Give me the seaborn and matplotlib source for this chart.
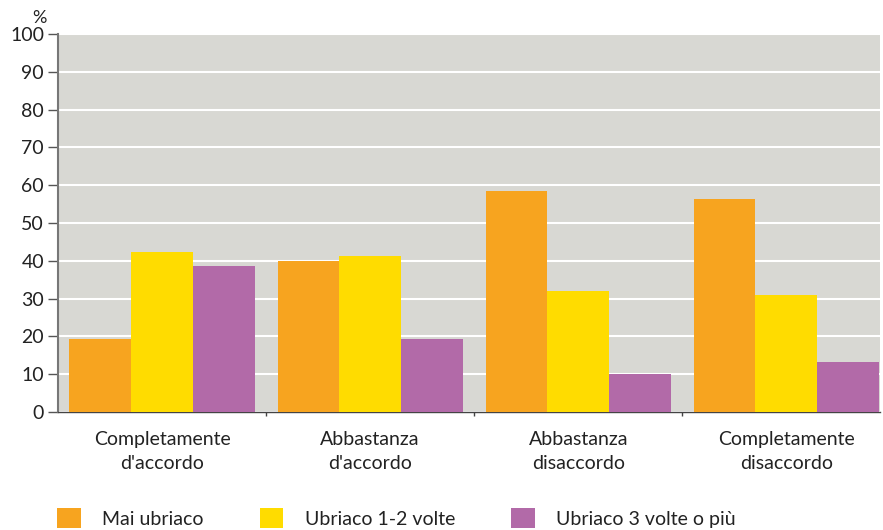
import numpy as np
import pandas as pd
import seaborn as sns
import matplotlib.pyplot as plt
from matplotlib.patches import Patch
from matplotlib.ticker import FixedLocator

categories = ["Completamente\nd'accordo", "Abbastanza\nd'accordo",
              "Abbastanza\ndisaccordo", "Completamente\ndisaccordo"]
series = ["Mai ubriaco", "Ubriaco 1-2 volte", "Ubriaco 3 volte o più"]
mai = [19.3, 40.0, 58.5, 56.3]
volte12 = [42.3, 41.3, 32.0, 31.0]
volte3 = [38.6, 19.3, 10.0, 13.2]
colors = ["#F7A41F", "#FFDC00", "#B26AA8"]

df = pd.DataFrame({
    "cat": categories * 3,
    "serie": [s for s in series for _ in categories],
    "val": mai + volte12 + volte3,
})

sns.set_style("white")
plt.rcParams['font.family'] = ['Lato', 'DejaVu Sans']

fig = plt.figure(figsize=(8.83, 5.30), dpi=100)
ax = fig.add_axes([58 / 883, 118 / 530, 822 / 883, 378 / 530])
ax.set_facecolor("#D8D8D3")

sns.barplot(data=df, x="cat", y="val", hue="serie", palette=colors,
            width=0.89, saturation=1, ax=ax, legend=False, zorder=3,
            linewidth=0, edgecolor="none")

ax.set_ylim(0, 100)
ax.set_xlim(-0.5, 3.45)
ax.set_yticks(np.arange(0, 101, 10))
ax.yaxis.grid(True, color="white", linewidth=1.5, zorder=0)
ax.set_axisbelow(True)
ax.xaxis.grid(False)
ax.set_xlabel("")
ax.set_ylabel("")

for s in ["top", "right"]:
    ax.spines[s].set_visible(False)
ax.spines["left"].set_color("#777777")
ax.spines["left"].set_linewidth(1.5)
ax.spines["bottom"].set_color("#444444")
ax.spines["bottom"].set_linewidth(1.0)

ax.tick_params(axis="y", length=7, width=1, color="#555555", labelsize=14,
               labelcolor="#222222", pad=3, left=True)
ax.tick_params(axis="x", length=0, labelsize=14, labelcolor="#222222", pad=14)
for lab in ax.get_xticklabels():
    lab.set_linespacing(1.45)
ax.xaxis.set_minor_locator(FixedLocator([0.5, 1.5, 2.5]))
ax.tick_params(axis="x", which="minor", length=3, width=1, color="#444444",
               bottom=True)

ax.text(-0.022, 1.02, "%", transform=ax.transAxes, fontsize=13, color="#222222",
        ha="center", va="bottom")

handles = [Patch(facecolor=c, edgecolor="none") for c in colors]
fig.legend(handles, series, loc="lower left", bbox_to_anchor=(0.045, -0.03),
           ncol=3, frameon=False, fontsize=14, handlelength=1.2,
           handleheight=1.2, handletextpad=1.1, columnspacing=2.9,
           labelcolor="#222222")

fig.savefig("out.png", dpi=100)
